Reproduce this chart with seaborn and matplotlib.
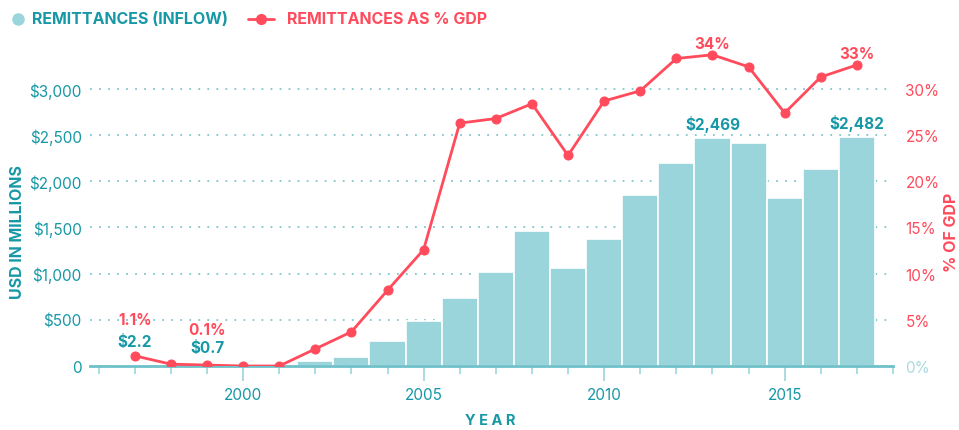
import matplotlib
matplotlib.use("Agg")
import matplotlib.pyplot as plt
import seaborn as sns
import numpy as np
import pandas as pd
from matplotlib.ticker import FixedLocator, MultipleLocator
from matplotlib.lines import Line2D

years = list(range(1997, 2018))
inflow_musd = [2.2, 1.0, 0.7, 1.0, 1.5, 57, 100, 270, 485, 740, 1020, 1465,
               1060, 1375, 1850, 2195, 2469, 2412, 1820, 2137, 2482]
pct_gdp = [1.1, 0.2, 0.1, 0.0, 0.0, 1.85, 3.7, 8.2, 12.6, 26.3, 26.8, 28.4,
           22.8, 28.7, 29.8, 33.3, 33.7, 32.4, 27.4, 31.3, 32.6]
left_ticks = [0, 500, 1000, 1500, 2000, 2500, 3000]
left_labels = ["0", "$500", "$1,000", "$1,500", "$2,000", "$2,500", "$3,000"]
right_ticks = [0, 5, 10, 15, 20, 25, 30]
right_labels = ["0%", "5%", "10%", "15%", "20%", "25%", "30%"]
x_ticks = [2000, 2005, 2010, 2015]
bar_labels = {1997: "$2.2", 1999: "$0.7", 2013: "$2,469", 2017: "$2,482"}
pct_labels = {1997: "1.1%", 1999: "0.1%", 2013: "34%", 2017: "33%"}

TEAL_TXT = "#1798A6"
BAR = "#9BD5DC"
RED = "#FF4B5C"
GRID = "#7DC7CE"
SPINE = "#6EC1C9"

sns.set_theme(style="white")
plt.rcParams["font.family"] = ["Inter", "DejaVu Sans"]

df = pd.DataFrame({"year": years, "inflow": inflow_musd, "pct": pct_gdp})

fig = plt.figure(figsize=(9.59, 4.31), dpi=100)
ax = fig.add_axes([90 / 959, 64 / 431, 803 / 959, 323.2 / 431])

sns.barplot(data=df, x="year", y="inflow", native_scale=True, width=1.0,
            color=BAR, saturation=1, edgecolor="white", linewidth=1.2, ax=ax,
            zorder=2)
ax.set_xlim(1995.76, 2018.0)
ax.set_ylim(0, 3500)
ax.yaxis.set_major_locator(FixedLocator(left_ticks))
ax.set_yticklabels(left_labels)
ax.grid(axis="y", color=GRID, linestyle=(0, (1, 4)), linewidth=1.3, zorder=0)
ax.set_axisbelow(True)
for s in ["top", "left", "right"]:
    ax.spines[s].set_visible(False)
ax.spines["bottom"].set_color(SPINE)
ax.spines["bottom"].set_linewidth(2)
ax.spines["bottom"].set_zorder(5)
ax.tick_params(axis="y", length=0, pad=6, labelsize=11, labelcolor=TEAL_TXT)
ax.xaxis.set_major_locator(FixedLocator(x_ticks))
ax.xaxis.set_minor_locator(MultipleLocator(1))
ax.set_xticklabels([str(t) for t in x_ticks])
ax.tick_params(axis="x", which="major", length=11, width=1.2, color=BAR,
               labelsize=11, labelcolor=TEAL_TXT, pad=4, bottom=True)
ax.tick_params(axis="x", which="minor", length=6, width=1.2, color=BAR, bottom=True)
ax.set_xlabel("")
ax.set_ylabel("")

ax2 = ax.twinx()
sns.lineplot(data=df, x="year", y="pct", color=RED, linewidth=2,
             marker="o", markersize=6.5, markeredgecolor=RED, ax=ax2, zorder=4)
ax2.set_ylim(0, 35)
ax2.set_xlim(1995.76, 2018.0)
ax2.yaxis.set_major_locator(FixedLocator(right_ticks))
ax2.set_yticklabels(right_labels)
ax2.tick_params(axis="y", length=0, pad=9, labelsize=11, labelcolor=RED)
ax2.get_yticklabels()[0].set_color("#A9DCE2")
for s in ["top", "left", "right", "bottom"]:
    ax2.spines[s].set_visible(False)
ax2.set_ylabel("")
ax2.set_xlabel("")
ax2.grid(False)

# annotations
bar_off = {1997: 5, 1999: 7.5, 2013: 4, 2017: 4}
for yr, txt in bar_labels.items():
    i = years.index(yr)
    if yr in (1997, 1999):
        ax2.annotate(txt, (yr, pct_gdp[i]), xytext=(0, bar_off[yr]),
                     textcoords="offset points", ha="center", va="bottom",
                     color=TEAL_TXT, fontsize=11, fontweight="bold")
    else:
        ax.annotate(txt, (yr, inflow_musd[i]), xytext=(0, bar_off[yr]),
                    textcoords="offset points", ha="center", va="bottom",
                    color=TEAL_TXT, fontsize=11, fontweight="bold")
pct_off = {1997: 21, 1999: 20.5, 2013: 2.5, 2017: 3}
for yr, txt in pct_labels.items():
    i = years.index(yr)
    ax2.annotate(txt, (yr, pct_gdp[i]), xytext=(0, pct_off[yr]),
                 textcoords="offset points", ha="center", va="bottom",
                 color=RED, fontsize=11, fontweight="bold")

# axis titles
fig.text(18 / 959, 1 - 232 / 431, "USD IN MILLIONS", rotation=90, ha="center",
         va="center", color=TEAL_TXT, fontsize=11.5, fontweight="bold")
fig.text(951 / 959, 1 - 232 / 431, "% OF GDP", rotation=90, ha="center",
         va="center", color=RED, fontsize=11.5, fontweight="bold")
fig.text(490 / 959, 1 - 421 / 431, "Y E A R", ha="center", va="center",
         color=TEAL_TXT, fontsize=10.5, fontweight="bold")

# legend
fig.add_artist(Line2D([18 / 959], [1 - 20 / 431], marker="o", markersize=8,
                      color=BAR, linestyle="none", transform=fig.transFigure))
fig.text(32 / 959, 1 - 20 / 431, "REMITTANCES (INFLOW)", ha="left", va="center",
         color=TEAL_TXT, fontsize=11.5, fontweight="bold")
fig.add_artist(Line2D([248 / 959, 274 / 959], [1 - 20 / 431, 1 - 20 / 431],
                      color=RED, linewidth=2, transform=fig.transFigure))
fig.add_artist(Line2D([261 / 959], [1 - 20 / 431], marker="o", markersize=7,
                      color=RED, linestyle="none", transform=fig.transFigure))
fig.text(287 / 959, 1 - 20 / 431, "REMITTANCES AS % GDP", ha="left", va="center",
         color=RED, fontsize=11.5, fontweight="bold")

fig.savefig("out.png", dpi=100)
